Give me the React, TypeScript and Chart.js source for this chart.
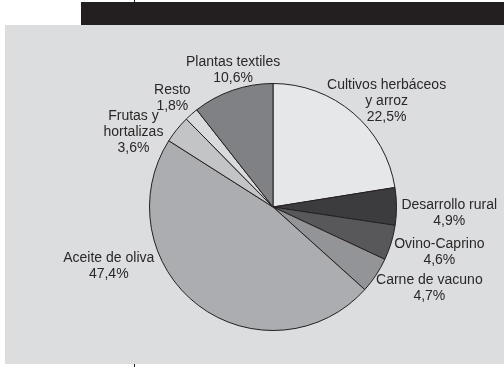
import React, { useEffect, useRef } from "react";
import { Chart, registerables } from "chart.js";

Chart.register(...registerables);

const categories = [
  "Cultivos herbáceos\ny arroz",
  "Desarrollo rural",
  "Ovino-Caprino",
  "Carne de vacuno",
  "Aceite de oliva",
  "Frutas y\nhortalizas",
  "Resto",
  "Plantas textiles",
];
const shares = [22.5, 4.9, 4.6, 4.7, 47.4, 3.6, 1.8, 10.6];
const sliceColors = [
  "#e6e7e9",
  "#3c3c3e",
  "#58585a",
  "#939497",
  "#acadb0",
  "#c3c4c6",
  "#d9dadc",
  "#808184",
];
// label block centre offsets from pie centre, in units of the pie radius
const labelOffsets: [number, number][] = [
  [0.92, -0.855],
  [1.427, 0.052],
  [1.347, 0.367],
  [1.266, 0.653],
  [-1.33, 0.48],
  [-1.13, -0.605],
  [-0.815, -0.88],
  [-0.323, -1.108],
];

const labelPlugin = {
  id: "outerLabels",
  afterDraw(chart: any) {
    const ctx = chart.ctx;
    const meta = chart.getDatasetMeta(0);
    ctx.save();
    ctx.font = '14px "Liberation Sans", Arial, sans-serif';
    ctx.fillStyle = "#2a2728";
    ctx.textAlign = "center";
    ctx.textBaseline = "middle";
    const lineH = 16;
    meta.data.forEach((arc: any, i: number) => {
      const r = arc.outerRadius;
      const cx = arc.x + labelOffsets[i][0] * r;
      const cy = arc.y + labelOffsets[i][1] * r;
      const lines = categories[i].split("\n");
      lines.push(shares[i].toFixed(1).replace(".", ",") + "%");
      const y0 = cy - ((lines.length - 1) * lineH) / 2;
      lines.forEach((t, k) => ctx.fillText(t, cx, y0 + k * lineH));
    });
    ctx.restore();
  },
};

export default function App() {
  const ref = useRef<HTMLCanvasElement | null>(null);
  useEffect(() => {
    if (!ref.current) return;
    const chart = new Chart(ref.current, {
      type: "pie",
      data: {
        labels: categories,
        datasets: [
          {
            data: shares,
            backgroundColor: sliceColors,
            borderColor: "#231f20",
            borderWidth: 1,
          },
        ],
      },
      options: {
        responsive: false,
        animation: false,
        layout: { padding: { left: 144, right: 107, top: 58, bottom: 33 } },
        plugins: { legend: { display: false }, tooltip: { enabled: false } },
      },
      plugins: [labelPlugin],
    });
    return () => chart.destroy();
  }, []);

  return (
    <div style={{ position: "absolute", left: 0, top: 0, width: 504, height: 367, background: "#fff", overflow: "hidden" }}>
      <div style={{ position: "absolute", left: 81, top: 2, width: 423, height: 23, background: "#231f20" }} />
      <div style={{ position: "absolute", left: 134, top: 0, width: 1, height: 2, background: "#231f20" }} />
      <div style={{ position: "absolute", left: 5, top: 25, width: 499, height: 339, background: "#dcdddf" }}>
        <canvas ref={ref} width={499} height={339} style={{ display: "block" }} />
      </div>
      <div style={{ position: "absolute", left: 134, top: 364, width: 1, height: 3, background: "#231f20" }} />
    </div>
  );
}
